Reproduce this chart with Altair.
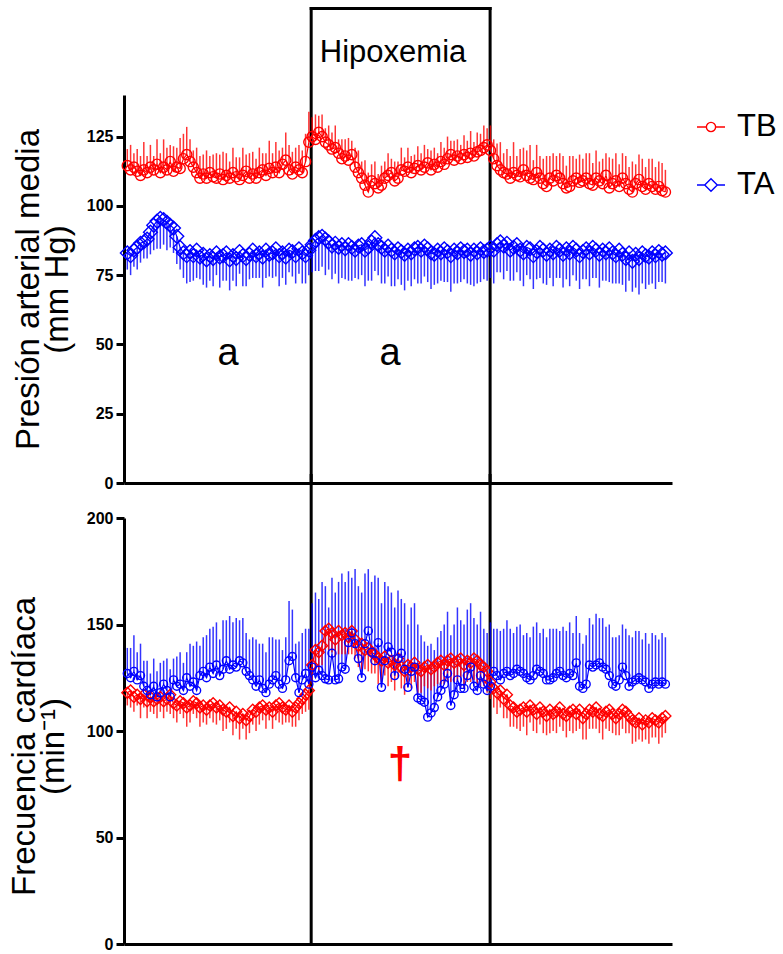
import altair as alt
import pandas as pd

FONT = "Liberation Sans"
RED = "#ff0000"
BLUE = "#0000ff"

# ---------------- data ----------------
# Presión arterial media, TB (mean, upward SEM)
tb_map = [
    114.5, 113, 114, 112.5, 111, 113, 112, 114, 113, 115,
    112, 114, 113, 116, 112.5, 114, 113.5, 117, 118.5, 116,
    114, 112, 110, 111.5, 110, 112, 110.5, 110, 111.5, 109.5,
    111, 110, 112, 110.5, 109.5, 111, 112.5, 110, 111.5, 110,
    112, 113, 111, 113.5, 112, 114, 112, 115, 116.5, 113,
    111.5, 114, 113, 112, 116, 123,
    125, 124, 126.5, 125, 123, 122, 120.5, 121, 119, 117,
    118, 116.5, 118.5, 114, 112, 110, 107.5, 105, 109, 108,
    106.5, 107.5, 110, 111, 112, 109, 110, 113, 112.5, 114,
    112, 113.5, 114.5, 113, 114, 115.5, 113, 115, 114, 116,
    115, 117, 118.5, 116.5, 118, 117, 118.5, 117.5, 119, 118,
    119.5, 120, 121, 122,
    120, 117, 114.5, 113, 112, 111.5, 110, 112, 111, 110.5,
    113, 111, 110, 109.5, 112, 110, 108, 107, 110, 109,
    111, 110, 108, 106.5, 107, 109, 110, 108.5, 109, 110,
    108, 107.5, 110, 109, 108, 111, 106.5, 108, 109, 107,
    110, 108, 106, 105, 108, 109.5, 107, 106, 108, 107,
    106, 107, 105.5, 105,
]
tb_map_err = [
    6, 9, 5, 8, 7, 10, 6, 8, 5, 9,
    7, 10, 8, 6, 9, 7, 11, 9, 10, 8,
    6, 9, 8, 7, 10, 6, 8, 9, 7, 10,
    8, 6, 9, 7, 8, 10, 6, 9, 8, 7,
    9, 6, 8, 10, 7, 9, 8, 6, 10, 9,
    8, 7, 9, 8, 10, 11,
    7, 9, 6, 8, 5, 7, 6, 8, 5, 7,
    6, 8, 5, 7, 8, 6, 9, 7, 6, 8,
    5, 7, 6, 8, 5, 7, 6, 8, 5, 7,
    6, 5, 7, 6, 8, 5, 7, 6, 5, 7,
    6, 8, 5, 7, 6, 5, 7, 6, 8, 5,
    7, 6, 8, 6,
    9, 7, 8, 10, 7, 9, 8, 11, 7, 10,
    8, 9, 12, 7, 10, 8, 9, 11, 8, 10,
    7, 9, 10, 8, 11, 9, 7, 10, 8, 9,
    11, 8, 10, 7, 9, 8, 11, 9, 10, 8,
    9, 10, 8, 11, 7, 9, 10, 8, 9, 10,
    8, 9, 10, 8,
]
# Presión arterial media, TA (mean, downward SEM)
ta_map = [
    83, 82, 84, 85, 86.5, 87, 88, 90.5, 93, 94.5,
    95.5, 95, 94, 93, 92, 89, 85, 83, 82, 83.5,
    82, 84, 81.5, 82.5, 80.5, 82, 81, 83, 81.5, 82,
    83, 80.5, 82, 81, 83.5, 82, 81, 82.5, 84, 82,
    83, 81.5, 84, 82.5, 83, 84.5, 82, 83, 81.5, 84,
    83.5, 82, 84.5, 83, 82, 84,
    86, 87.5, 88.5, 89, 88, 87, 85.5, 86.5, 85, 86,
    84.5, 86, 85, 84, 85.5, 86, 84, 85, 87, 88.5,
    86, 85, 84, 85.5, 84, 83, 84.5, 83.5, 82.5, 84,
    83, 84.5, 85, 84, 85.5, 84.5, 83, 82.5, 84, 83,
    84.5, 83.5, 82, 84, 83, 84.5, 83.5, 84, 82.5, 84,
    83, 84.5, 83.5, 84,
    85, 84, 86, 87, 85.5, 86.5, 84, 85, 86, 84,
    83, 85, 84.5, 82, 83.5, 85, 84, 82.5, 84, 83,
    85, 84, 82.5, 84.5, 83, 85, 84, 82, 83.5, 84.5,
    83, 85, 84, 82.5, 84, 83, 84.5, 83, 82, 84,
    82.5, 81, 83, 80, 82.5, 81, 83, 82, 81.5, 83,
    82, 83.5, 82.5, 83,
]
ta_map_err = [
    6, 7, 6, 8, 7, 6, 7, 8, 9, 10,
    11, 9, 10, 8, 9, 10, 8, 9, 10, 11,
    9, 10, 8, 11, 10, 9, 10, 8, 11, 9,
    10, 11, 9, 10, 8, 11, 10, 9, 10, 8,
    9, 11, 10, 8, 9, 10, 11, 9, 10, 8,
    9, 10, 9, 11, 10, 9,
    10, 11, 12, 11, 13, 10, 12, 11, 13, 12,
    11, 13, 12, 10, 12, 11, 13, 12, 14, 12,
    11, 13, 12, 11, 13, 12, 11, 12, 13, 11,
    12, 11, 13, 12, 11, 12, 13, 11, 12, 10,
    12, 11, 13, 12, 11, 12, 10, 12, 11, 13,
    11, 12, 10, 11,
    11, 12, 10, 11, 12, 10, 11, 12, 10, 11,
    12, 10, 11, 12, 10, 11, 12, 11, 10, 12,
    11, 10, 12, 11, 12, 10, 11, 12, 10, 11,
    12, 11, 10, 12, 11, 10, 12, 11, 10, 12,
    11, 12, 10, 11, 12, 13, 11, 12, 10, 11,
    12, 11, 10, 11,
]
# Frecuencia cardíaca, TA (mean, upward SEM)
ta_hr = [
    127, 125, 128, 124, 126, 121, 119, 117, 121, 116,
    118, 122, 119, 116, 124, 121, 122, 119, 125, 121,
    123, 119, 126, 128, 125, 130, 127, 131, 126, 129,
    133, 129, 131, 130, 133, 132, 128, 126, 124, 121,
    124, 120, 118, 122, 124, 126, 122, 120, 124, 133,
    135, 125, 118, 124, 127, 122,
    130, 125, 128.5, 126, 124.5, 124, 136.5, 124, 124.5, 130,
    129, 141.5, 146, 141, 134, 125, 141, 147, 137, 133,
    141.5, 120.5, 133, 139.5, 137, 126, 134, 136.5, 129, 120.5,
    128, 130, 115.5, 114.5, 113.5, 106.5, 108.5, 111, 116, 119,
    122, 127, 112, 117, 124, 120, 120, 126, 130, 121,
    119, 126, 122, 119,
    121, 128, 126, 124, 127, 128, 126, 127, 129, 128,
    127, 125, 124, 126, 129, 128, 127, 124, 124, 125,
    127, 128, 126, 125, 127, 126, 132, 121, 120, 122,
    131, 130, 131, 132, 130, 129, 126, 122, 121, 124,
    130, 126, 121, 123, 124, 125, 124, 123, 120, 122,
    123, 122, 123, 122,
]
ta_hr_err = [
    12, 14, 17, 13, 15, 12, 14, 10, 13, 12,
    14, 11, 15, 13, 10, 14, 15, 13, 12, 20,
    17, 23, 14, 16, 20, 18, 22, 20, 17, 23,
    19, 25, 20, 23, 19, 21, 18, 17, 20, 22,
    17, 21, 19, 22, 20, 17, 21, 18, 20, 28,
    22, 16, 24, 22, 21, 26,
    30, 40, 33.5, 44, 43.5, 34, 35.5, 41, 45.5, 44,
    41, 33.5, 26, 35, 34, 40, 33, 29, 33, 40,
    30.5, 39.5, 37, 28.5, 28, 32, 32, 25.5, 31, 29.5,
    30, 30, 34.5, 30.5, 28.5, 33.5, 32.5, 27, 28, 28,
    28, 29, 33, 33, 34, 32, 30, 31, 30, 32,
    31, 30, 26, 27,
    30, 20, 22, 23, 21, 24, 22, 19, 20, 22,
    18, 21, 20, 23, 22, 18, 21, 20, 24, 23,
    21, 19, 23, 22, 24, 20, 22, 25, 21, 23,
    22, 20, 24, 21, 23, 20, 24, 22, 23, 21,
    20, 22, 24, 21, 23, 22, 19, 23, 21, 24,
    22, 21, 23, 22,
]
# Frecuencia cardíaca, TB (mean, downward SEM)
tb_hr = [
    118, 119, 116, 117, 115, 117, 114, 116, 114, 115,
    116, 114, 115, 117, 113, 112, 114, 113, 111, 112,
    114, 113, 111, 112, 110, 112, 113, 111, 112, 110,
    109, 111, 107, 109, 106, 108, 105, 107, 110, 109,
    111, 112, 110, 111, 109, 112, 113, 111, 110, 112,
    109, 111, 113, 115, 117, 119,
    131, 138, 137, 140, 147, 148, 146, 143, 147, 145,
    146, 144, 147, 143, 140, 141, 138, 139, 137, 136,
    134, 133, 135, 132, 133, 131, 134, 130, 128, 131,
    130, 132, 129, 128, 130, 131, 129, 130, 132, 133,
    131, 133, 134, 132, 133, 134, 131, 133, 132, 134,
    133, 131, 130, 128,
    123, 120, 118, 119, 115, 117, 112, 111, 109, 110,
    111, 109, 112, 110, 108, 111, 109, 107, 110, 108,
    109, 111, 108, 107, 109, 110, 108, 110, 106, 108,
    110, 109, 111, 108, 107, 109, 110, 108, 106, 108,
    110, 109, 107, 105, 104, 106, 103, 105, 104, 106,
    105, 104, 106, 107,
]
tb_hr_err = [
    6, 8, 7, 5, 9, 6, 8, 7, 6, 9,
    7, 8, 6, 9, 7, 8, 6, 7, 9, 8,
    6, 7, 9, 8, 7, 6, 9, 8, 7, 10,
    8, 7, 9, 8, 10, 7, 9, 8, 7, 9,
    8, 7, 9, 6, 8, 7, 9, 8, 6, 8,
    7, 9, 8, 7, 8, 9,
    9, 8, 10, 9, 8, 10, 9, 8, 11, 9,
    10, 8, 11, 9, 10, 12, 9, 11, 10, 9,
    12, 10, 9, 11, 10, 12, 9, 10, 11, 9,
    10, 9, 11, 10, 9, 11, 10, 9, 10, 11,
    9, 10, 11, 9, 10, 9, 11, 10, 9, 10,
    11, 10, 9, 10,
    8, 9, 10, 8, 9, 11, 10, 9, 8, 10,
    9, 11, 8, 10, 9, 8, 10, 9, 11, 8,
    10, 9, 8, 10, 9, 11, 8, 9, 10, 12,
    9, 8, 10, 9, 11, 8, 10, 9, 8, 10,
    9, 10, 8, 11, 9, 10, 8, 9, 10, 9,
    8, 10, 9, 8,
]

# hypoxemia period (x units) and annotations
hyp_start, hyp_end = 56.7, 110.9
x_max = 166
map_ticks = [0, 25, 50, 75, 100, 125]
hr_ticks = [0, 50, 100, 150, 200]
map_title = ["Presión arterial media", "(mm Hg)"]
hr_title = ["Frecuencia cardíaca", "(min⁻¹)"]
sig_a_x = [31.5, 80.6]
sig_a_y = [46.7, 46.7]
dagger_x, dagger_y = [83.6], [84]
legend_labels = ["TB", "TA"]
legend_colors = [RED, BLUE]


def frame(mean, err, sign):
    n = min(len(mean), len(err))
    return pd.DataFrame({
        "x": list(range(1, n + 1)),
        "y": mean[:n],
        "y2": [m + sign * e for m, e in zip(mean[:n], err[:n])],
    })


x_axis = alt.Axis(title=None, labels=False, ticks=False, grid=False,
                  domainWidth=3, domainColor="black")


def X():
    return alt.X("x:Q", scale=alt.Scale(domain=[0, x_max], nice=False, zero=False),
                 axis=x_axis)


def make_y(domain, ticks, title, pad, title_y=None):
    kw = dict(values=ticks, title=title, grid=False, domainWidth=3, domainColor="black",
              tickWidth=3, tickSize=8, tickColor="black", labelFont=FONT,
              labelFontSize=16, labelFontWeight="bold", labelColor="black",
              labelPadding=3, titleFont=FONT, titleFontSize=33, titleFontWeight="normal",
              titleColor="black", titleLineHeight=29, titlePadding=pad)
    if title_y is not None:
        kw["titleY"] = title_y
    ax = alt.Axis(**kw)

    def Y():
        return alt.Y("y:Q", scale=alt.Scale(domain=domain, nice=False), axis=ax)
    return Y


def series_layers(df, color, shape, size, Y):
    base = alt.Chart(df)
    err = base.mark_rule(color=color, strokeWidth=1.5, opacity=0.8).encode(
        x=X(), y=Y(), y2="y2:Q")
    line = base.mark_line(color=color, strokeWidth=1.2).encode(x=X(), y=Y())
    pts = base.mark_point(shape=shape, size=size, filled=False, color=color,
                          strokeWidth=1.4, opacity=1).encode(x=X(), y=Y())
    return err, line, pts


def box_layers(y_top, Y, with_top):
    v = pd.DataFrame({"x": [hyp_start, hyp_end], "y": [0, 0], "y2": [y_top, y_top]})
    layers = [alt.Chart(v).mark_rule(color="black", strokeWidth=3, strokeCap="square").encode(
        x=X(), y=Y(), y2="y2:Q")]
    if with_top:
        h = pd.DataFrame({"x": [hyp_start], "x2": [hyp_end], "y": [y_top]})
        layers.append(alt.Chart(h).mark_rule(color="black", strokeWidth=3, strokeCap="square").encode(
            x=X(), x2="x2:Q", y=Y()))
    return layers


# ---------------- top panel ----------------
Yt = make_y([0, 140], map_ticks, map_title, 12)
tb1 = series_layers(frame(tb_map, tb_map_err, +1), RED, "circle", 105, Yt)
ta1 = series_layers(frame(ta_map, ta_map_err, -1), BLUE, "diamond", 190, Yt)
box1 = box_layers(171.2, Yt, True)
hyp_text = alt.Chart(pd.DataFrame({"x": [81.5], "y": [155], "t": ["Hipoxemia"]})).mark_text(
    font=FONT, fontSize=31, color="black", baseline="middle").encode(x=X(), y=Yt(), text="t:N")
a_text = alt.Chart(pd.DataFrame({"x": sig_a_x, "y": sig_a_y, "t": ["a", "a"]})).mark_text(
    font=FONT, fontSize=38, color="black", baseline="middle").encode(x=X(), y=Yt(), text="t:N")
top = alt.layer(*box1, ta1[0], tb1[0], ta1[1], tb1[1], ta1[2], tb1[2], hyp_text, a_text).properties(
    width=548, height=388)

# ---------------- bottom panel ----------------
Yb = make_y([0, 200], hr_ticks, hr_title, 16, 228)
ta2 = series_layers(frame(ta_hr, ta_hr_err, +1), BLUE, "circle", 64, Yb)
tb2 = series_layers(frame(tb_hr, tb_hr_err, -1), RED, "diamond", 120, Yb)
box2 = box_layers(220, Yb, False)
dag = alt.Chart(pd.DataFrame({"x": dagger_x, "y": dagger_y, "t": ["†"]})).mark_text(
    font=FONT, fontSize=44, fontWeight="bold", color=RED, baseline="middle").encode(
    x=X(), y=Yb(), text="t:N")
bottom = alt.layer(*box2, ta2[0], tb2[0], tb2[1], ta2[1], tb2[2], ta2[2], dag).properties(
    width=548, height=426)

panels = alt.vconcat(top, bottom, spacing=35, bounds="flush")

# ---------------- legend ----------------
circ_path = "M-1,0L-0.33,0M0.33,0L1,0M-0.33,0A0.33,0.33,0,1,1,0.33,0A0.33,0.33,0,1,1,-0.33,0"
diam_path = "M-1,0L-0.45,0M0.45,0L1,0M-0.45,0L0,-0.45L0.45,0L0,0.45Z"
leg_df = pd.DataFrame({"label": legend_labels})
leg_y = alt.Y("label:N", sort=legend_labels, axis=None,
              scale=alt.Scale(type="point", domain=legend_labels, padding=0.552))
leg_sym = alt.Chart(leg_df).mark_point(filled=False, size=784, strokeWidth=1.4, opacity=1).encode(
    x=alt.value(19), y=leg_y,
    shape=alt.Shape("label:N", scale=alt.Scale(domain=legend_labels, range=[circ_path, diam_path]), legend=None),
    color=alt.Color("label:N", scale=alt.Scale(domain=legend_labels, range=legend_colors), legend=None))
leg_txt = alt.Chart(leg_df).mark_text(font=FONT, fontSize=31, align="left", baseline="middle",
                                      color="black").encode(x=alt.value(45), y=leg_y, text="label:N")
legend = alt.layer(leg_sym, leg_txt).properties(width=80, height=122)

chart = alt.hconcat(panels, legend, spacing=16).properties(
    padding={"left": 8, "top": 6, "right": 2, "bottom": 2},
    background="white",
).configure_view(stroke=None)

chart.save("out.html", embed_options={"renderer": "svg", "actions": False})
